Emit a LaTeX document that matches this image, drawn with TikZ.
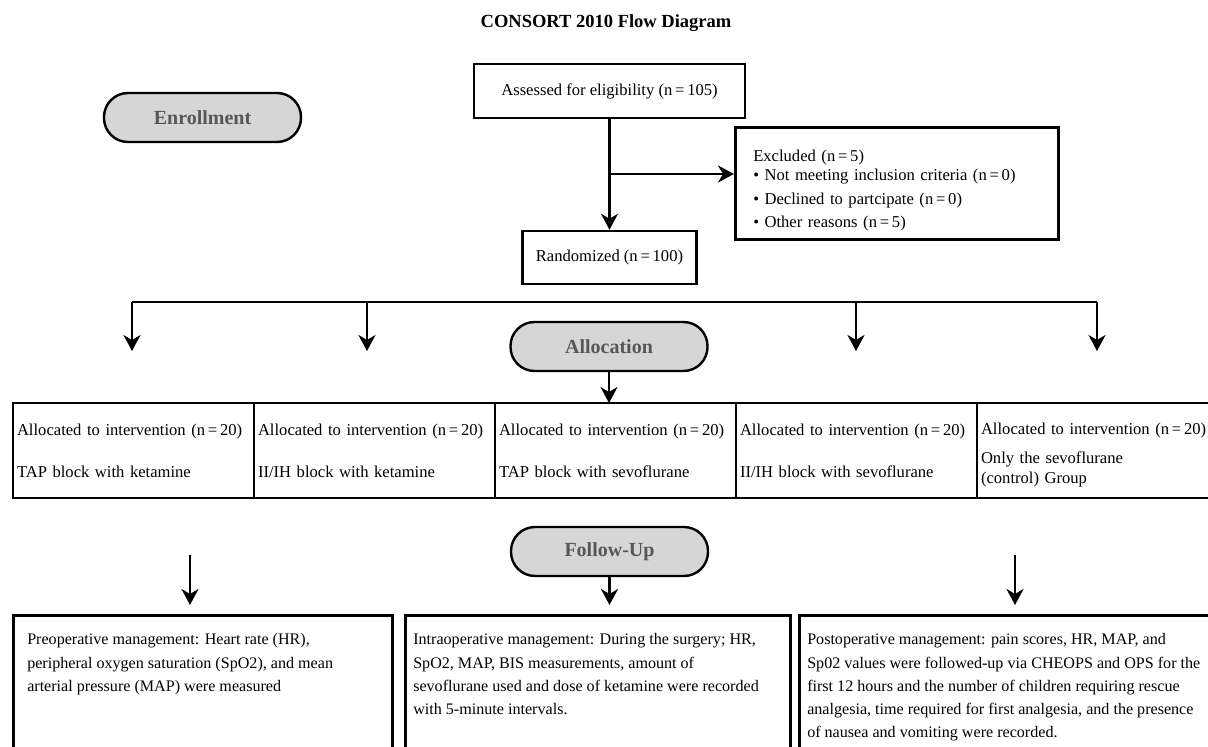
\documentclass[tikz,border=0pt]{standalone}
\usepackage{fontspec}
\setmainfont{Liberation Serif}
\usetikzlibrary{arrows.meta,positioning,shapes}
\definecolor{pillgray}{HTML}{D6D6D6}
\definecolor{pilltext}{HTML}{575757}
\tikzstyle{every picture}=[x=1pt,y=-1pt,>={Stealth[length=16pt,width=17pt,inset=5pt]}]
\tikzset{
	pill/.style={draw,line width=2.4pt,fill=pillgray,rounded corners=24pt,minimum width=197pt,
		minimum height=49pt,text=pilltext,font=\fontsize{20}{23}\selectfont\bfseries},
	box/.style={draw,line width=2.5pt,font=\fontsize{16.6}{20}\selectfont},
	alloc/.style={box,outer sep=0pt,minimum width=241pt,minimum height=95pt,inner xsep=4pt,
		text width=233pt,align=left},
	follow/.style={box,anchor=north west,inner ysep=13.5pt,font=\fontsize{16.1}{23.2}\selectfont},
	conn/.style={line width=2.2pt}
}
\newcommand{\nn}[1]{(n\,=\,#1)}

\begin{document}
\begin{tikzpicture}
	\useasboundingbox (0,0) rectangle (1208,747);
	\clip (0,0) rectangle (1208,747);
	\node (title) at (606,23) {\fontsize{18.5}{22}\selectfont\bfseries CONSORT 2010 Flow Diagram};
	\node[pill] (enroll) at (202.5,117.5) {Enrollment};
	\node[box,minimum width=271pt,minimum height=54pt] (assess) at (609.5,91) {Assessed for eligibility \nn{105}};
	\node[box,minimum width=174pt,minimum height=53pt] (random) at (609.5,257.5) {Randomized \nn{100}};
	\node[box,anchor=north west,minimum width=323pt,minimum height=112pt,inner xsep=18pt,
		text width=287pt,align=left,font=\fontsize{16.6}{19}\selectfont] (excl) at (734,126)
		{\rule{0pt}{27pt}Excluded \nn{5}\\
		• Not meeting inclusion criteria \nn{0}\\[5pt]
		• Declined to partcipate \nn{0}\\[4pt]
		• Other reasons \nn{5}};
	\coordinate (split) at (609.5,174);
	\draw[conn,->] (assess.south) -- (assess.south |- random.north);
	\draw[conn,->] (split) -- (split -| excl.west);

	\foreach \n/\x in {1/132,2/367,3/856,4/1097} {
		\coordinate (b\n) at (\x,302);
		\coordinate (t\n) at (\x,351);
		\draw[conn,->] (b\n) -- (t\n);
	}
	\draw[conn] (b1) -- (b4);

	\node[pill] (allocation) at (609,346.5) {Allocation};
	\node[alloc,anchor=north west] (g1) at (13,403) {Allocated to intervention \nn{20}\\[22pt] TAP block with ketamine};
	\node[alloc,right=0pt of g1] (g2) {Allocated to intervention \nn{20}\\[22pt] II/IH block with ketamine};
	\node[alloc,right=0pt of g2] (g3) {Allocated to intervention \nn{20}\\[22pt] TAP block with sevoflurane};
	\node[alloc,right=0pt of g3] (g4) {Allocated to intervention \nn{20}\\[22pt] II/IH block with sevoflurane};
	\node[alloc,right=0pt of g4] (g5) {\rule{0pt}{21pt}Allocated to intervention \nn{20}\\[9pt] Only the sevoflurane\\ (control) Group};
	\draw[conn,->] (allocation.south) -- (allocation.south |- g3.north);

	\node[pill] (followup) at (609.5,551.5) {Follow-Up};
	\node[follow,inner xsep=14pt] (p1) at (12,614) {\parbox[t][150pt][t]{351pt}{\raggedright\strut
		Preoperative management: Heart rate (HR),\\
		peripheral oxygen saturation (SpO2), and mean\\
		arterial pressure (MAP) were measured}};
	\node[follow,inner xsep=8pt] (p2) at (404,614) {\parbox[t][150pt][t]{369pt}{\raggedright\strut
		Intraoperative management: During the surgery; HR,\\
		SpO2, MAP, BIS measurements, amount of\\
		sevoflurane used and dose of ketamine were recorded\\
		with 5-minute intervals.}};
	\node[follow,inner xsep=8pt] (p3) at (798,614) {\parbox[t][150pt][t]{410pt}{\raggedright\strut
		Postoperative management: pain scores, HR, MAP, and\\
		Sp02 values were followed-up via CHEOPS and OPS for the\\
		first 12 hours and the number of children requiring rescue\\
		analgesia, time required for first analgesia, and the presence\\
		of nausea and vomiting were recorded.}};
	\coordinate (f1) at (190,555);
	\coordinate (f3) at (1015,555);
	\draw[conn,->,shorten >=9pt] (f1) -- (f1 |- p1.north);
	\draw[conn,->,shorten >=9pt] (followup.south) -- (followup.south |- p2.north);
	\draw[conn,->,shorten >=9pt] (f3) -- (f3 |- p3.north);
\end{tikzpicture}
\end{document}
